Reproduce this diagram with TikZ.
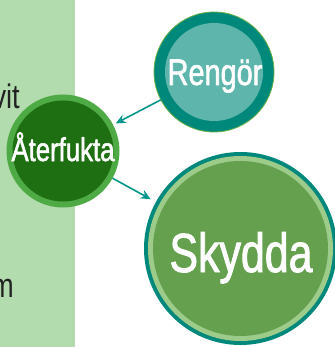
\documentclass[tikz,border=0pt]{standalone}
\usepackage{fontspec}
\setmainfont{Liberation Sans}
\newfontfamily\cond{Liberation Sans}[FakeStretch=0.8]
\newfontfamily\condb{Liberation Sans}[FakeStretch=0.78, FakeBold=1.6]
\usetikzlibrary{arrows.meta}
\definecolor{band}{HTML}{B2DBAE}
\definecolor{tealring}{HTML}{00897B}
\definecolor{tealin}{HTML}{5DB5AC}
\definecolor{edgegreen}{HTML}{6AB04C}
\definecolor{darkgreen}{HTML}{1E6E12}
\definecolor{ringgreen}{HTML}{4EAA44}
\definecolor{midgreen}{HTML}{64A04E}
\definecolor{lightring}{HTML}{9CCB8A}
\definecolor{arrowteal}{HTML}{00968A}
\definecolor{txtgray}{HTML}{222222}
\tikzset{
  bubble/.style={circle, inner sep=0pt, outer sep=0pt},
  label/.style={text=white, anchor=base, inner sep=0pt},
  sidetext/.style={text=txtgray, font=\cond\fontsize{34}{34}\selectfont, anchor=base east, inner sep=0pt},
  arr/.style={draw=arrowteal, line width=1.6pt, -{Stealth[length=10pt, width=9pt]}}
}
\begin{document}
\begin{tikzpicture}[x=1pt, y=-1pt]
\useasboundingbox (0,0) rectangle (334,347);
\fill[band] (0,0) rectangle (75,347);
\node[sidetext] (vit) at (20,109) {vit};
\node[sidetext] (m) at (14,297) {m};
% Rengor
\node[bubble, fill=tealring, draw=edgegreen, line width=0.8pt, minimum size=120pt] (reng) at (214,72) {};
\fill[tealin] (reng.center) circle (49pt);
\node[label, font=\condb\fontsize{37}{37}\selectfont] (rengt) at (215,85) {Rengör};
% Aterfukta
\node[bubble, fill=ringgreen, minimum size=113pt] (ater) at (63,151) {};
\fill[darkgreen] (ater.center) circle (50.5pt);
\node[label, font=\condb\fontsize{33}{33}\selectfont] (atert) at (63,161) {Återfukta};
% Skydda
\node[bubble, fill=tealring, minimum size=193pt] (skyd) at (240.5,248.5) {};
\fill[lightring] (skyd.center) circle (92.5pt);
\fill[midgreen] (skyd.center) circle (87.5pt);
\node[label, font=\condb\fontsize{55}{55}\selectfont] (skydt) at (241,272) {Skydda};
% arrows
\draw[arr, shorten >=3pt] (reng) -- (ater);
\draw[arr, shorten >=6pt] (ater) -- (skyd);
\end{tikzpicture}
\end{document}
